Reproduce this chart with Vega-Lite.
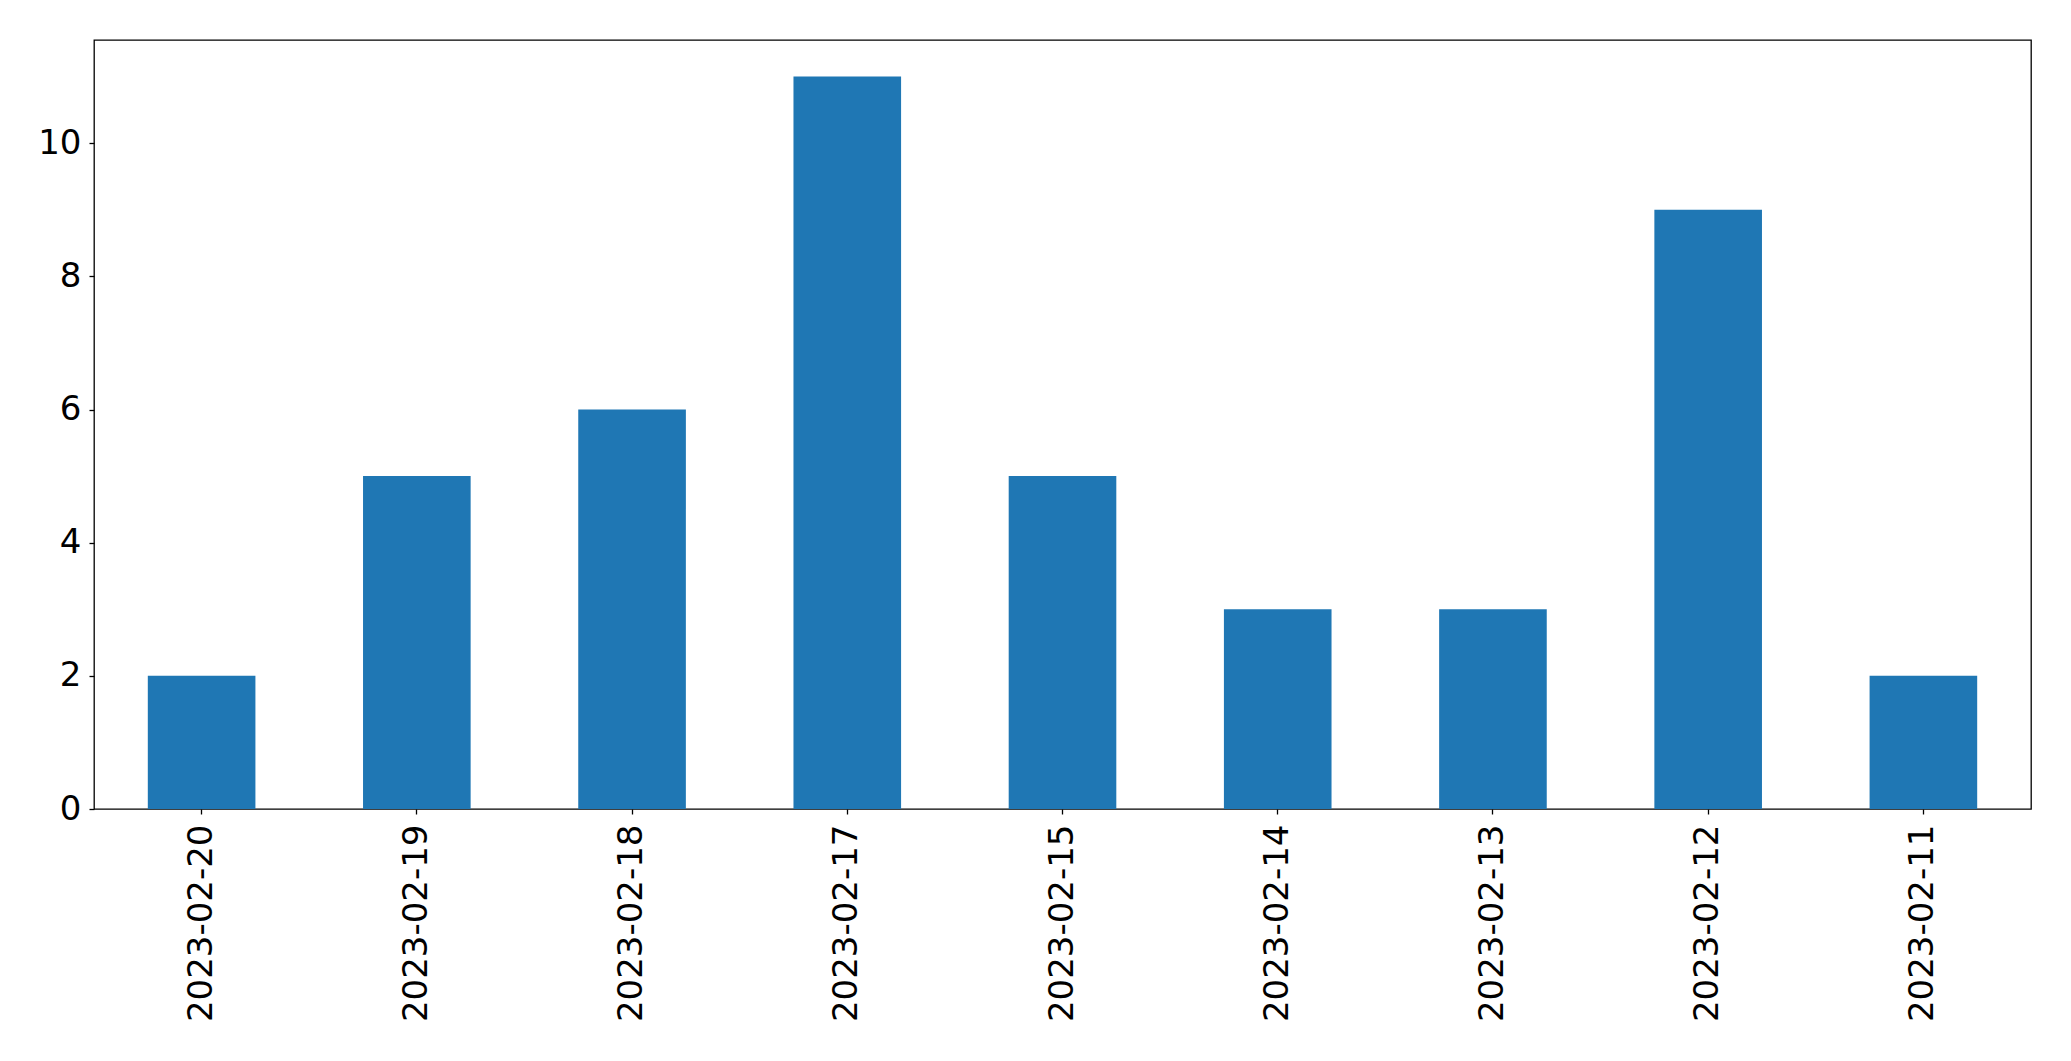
{
  "$schema": "https://vega.github.io/schema/vega-lite/v6.json",
  "autosize": {"type": "none"},
  "padding": {"left": 94, "top": 40, "right": 40, "bottom": 252},
  "width": 1937,
  "height": 769,
  "background": "white",
  "config": {
    "view": {"stroke": "#000000", "strokeWidth": 1.3},
    "axis": {
      "labelFont": "DejaVu Sans",
      "labelFontSize": 34,
      "labelColor": "black",
      "labelLimit": 0,
      "tickColor": "black",
      "tickSize": 5,
      "tickWidth": 1.3,
      "domain": false,
      "grid": false,
      "title": null
    }
  },
  "data": {
    "values": [
      {"date": "2023-02-20", "count": 2},
      {"date": "2023-02-19", "count": 5},
      {"date": "2023-02-18", "count": 6},
      {"date": "2023-02-17", "count": 11},
      {"date": "2023-02-15", "count": 5},
      {"date": "2023-02-14", "count": 3},
      {"date": "2023-02-13", "count": 3},
      {"date": "2023-02-12", "count": 9},
      {"date": "2023-02-11", "count": 2}
    ]
  },
  "mark": {"type": "bar", "color": "#1f77b4"},
  "encoding": {
    "x": {
      "field": "date",
      "type": "nominal",
      "sort": null,
      "scale": {"paddingInner": 0.5, "paddingOuter": 0.25},
      "axis": {"labelAngle": -90, "labelPadding": 10, "labelBaseline": "middle"}
    },
    "y": {
      "field": "count",
      "type": "quantitative",
      "scale": {"domain": [0, 11.55], "nice": false, "zero": true},
      "axis": {"values": [0, 2, 4, 6, 8, 10], "labelPadding": 8}
    }
  }
}
